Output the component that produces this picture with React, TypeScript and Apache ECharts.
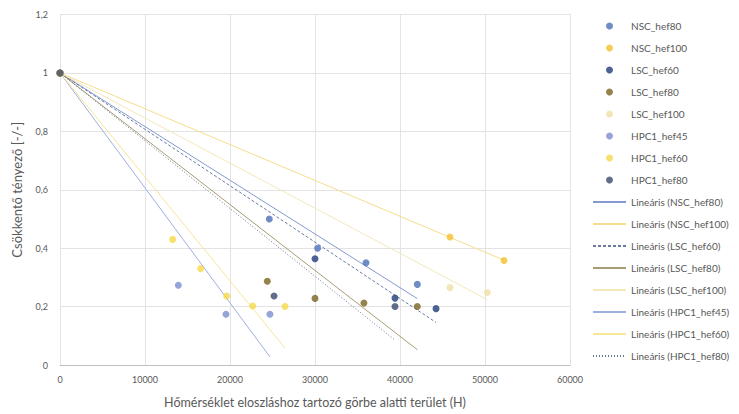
import React, { useEffect, useRef } from "react";
import * as echarts from "echarts";

const seriesNames = [
  "NSC_hef80",
  "NSC_hef100",
  "LSC_hef60",
  "LSC_hef80",
  "LSC_hef100",
  "HPC1_hef45",
  "HPC1_hef60",
  "HPC1_hef80",
];

const colors = ["#4E6FB5", "#F2C12E", "#203A78", "#7B6420", "#EFE0A8", "#7C8FD0", "#F6D84B", "#3B4A6B"];
const lineColors = ["#8499D0", "#F5DD8E", "#6A7AA4", "#A89C74", "#F4E7B8", "#A0AEE0", "#F7E59A", "#6A7590"];
const lineTypes: any[] = ["solid", "solid", [3, 2], "solid", "solid", "solid", "solid", [1, 2]];

const NSC_hef80 = [[0, 1], [24620, 0.5], [30310, 0.4], [36000, 0.35], [42040, 0.276]];
const NSC_hef100 = [[0, 1], [45880, 0.438], [52240, 0.358]];
const LSC_hef60 = [[0, 1], [30000, 0.364], [39410, 0.229], [44240, 0.193]];
const LSC_hef80 = [[0, 1], [24390, 0.287], [30000, 0.228], [35760, 0.212], [42040, 0.2]];
const LSC_hef100 = [[0, 1], [45880, 0.265], [50270, 0.248]];
const HPC1_hef45 = [[0, 1], [13920, 0.273], [19530, 0.174], [24700, 0.174]];
const HPC1_hef60 = [[0, 1], [13255, 0.43], [16550, 0.33], [19610, 0.236], [22670, 0.202], [26470, 0.2]];
const HPC1_hef80 = [[0, 1], [25180, 0.236], [39410, 0.2]];

const seriesData = [NSC_hef80, NSC_hef100, LSC_hef60, LSC_hef80, LSC_hef100, HPC1_hef45, HPC1_hef60, HPC1_hef80];

const xTicks = [0, 10000, 20000, 30000, 40000, 50000, 60000];
const yTicks = [0, 0.2, 0.4, 0.6, 0.8, 1, 1.2];

// linear trendline with intercept fixed at 1
function trend(pts: number[][]) {
  let num = 0;
  let den = 0;
  let xmax = 0;
  for (const [x, y] of pts) {
    num += x * (y - 1);
    den += x * x;
    if (x > xmax) xmax = x;
  }
  const slope = num / den;
  return [
    [0, 1],
    [xmax, 1 + slope * xmax],
  ];
}

const FONT = "Lato";

export default function App() {
  const ref = useRef<HTMLDivElement>(null);
  useEffect(() => {
    if (!ref.current) return;
    const chart = echarts.init(ref.current, null, { renderer: "svg" });
    const scatterSeries = seriesNames.map((n, i) => ({
      name: n,
      type: "scatter",
      data: seriesData[i],
      symbol: "circle",
      symbolSize: 7,
      itemStyle: { color: colors[i] },
      z: 5,
    }));
    const lineSeries = seriesNames.map((n, i) => ({
      name: `Lineáris (${n})`,
      type: "line",
      data: trend(seriesData[i]),
      showSymbol: false,
      symbol: "none",
      lineStyle: { color: lineColors[i], width: 1, type: lineTypes[i] },
      itemStyle: { color: lineColors[i] },
      z: 3,
    }));
    const legendData = [
      ...seriesNames.map((n) => ({ name: n, icon: "circle" })),
      ...seriesNames.map((n) => ({ name: `Lineáris (${n})`, itemStyle: { opacity: 0 } })),
    ];
    chart.setOption({
      animation: false,
      backgroundColor: "#ffffff",
      textStyle: { fontFamily: FONT },
      grid: { left: 60, right: 169, top: 14.5, bottom: 48 },
      legend: {
        orient: "vertical",
        left: 592,
        top: 20,
        padding: 0,
        itemWidth: 33,
        itemHeight: 7,
        itemGap: 10,
        data: legendData,
        textStyle: { fontSize: 10, lineHeight: 12, color: "#595959", fontFamily: FONT },
      },
      xAxis: {
        type: "value",
        min: 0,
        max: 60000,
        interval: 10000,
        name: "Hőmérséklet eloszláshoz tartozó görbe alatti terület (H)",
        nameLocation: "middle",
        nameGap: 31,
        nameTextStyle: { fontSize: 12.5, color: "#595959" },
        axisLine: { show: true, lineStyle: { color: "#BFBFBF" } },
        axisTick: { show: false },
        axisLabel: {
          fontSize: 9,
          color: "#595959",
          margin: 10,
          formatter: (v: number) => (xTicks.includes(v) ? String(v) : ""),
        },
        splitLine: { show: true, lineStyle: { color: "#E3E3E3" } },
      },
      yAxis: {
        type: "value",
        min: 0,
        max: 1.2,
        interval: 0.2,
        name: "Csökkentő tényező [-/-]",
        nameLocation: "middle",
        nameGap: 37,
        nameTextStyle: { fontSize: 13, color: "#595959" },
        axisLine: { show: false },
        axisTick: { show: false },
        axisLabel: {
          fontSize: 9,
          color: "#595959",
          margin: 12,
          formatter: (v: number) => {
            const t = yTicks.find((k) => Math.abs(k - v) < 1e-9);
            return t === undefined ? "" : String(+t.toFixed(1)).replace(".", ",");
          },
        },
        splitLine: { show: true, lineStyle: { color: "#E3E3E3" } },
      },
      series: [...lineSeries, ...scatterSeries],
    });
    return () => chart.dispose();
  }, []);
  return <div ref={ref} style={{ width: 739, height: 414, position: "absolute", left: 0, top: 0 }} />;
}
